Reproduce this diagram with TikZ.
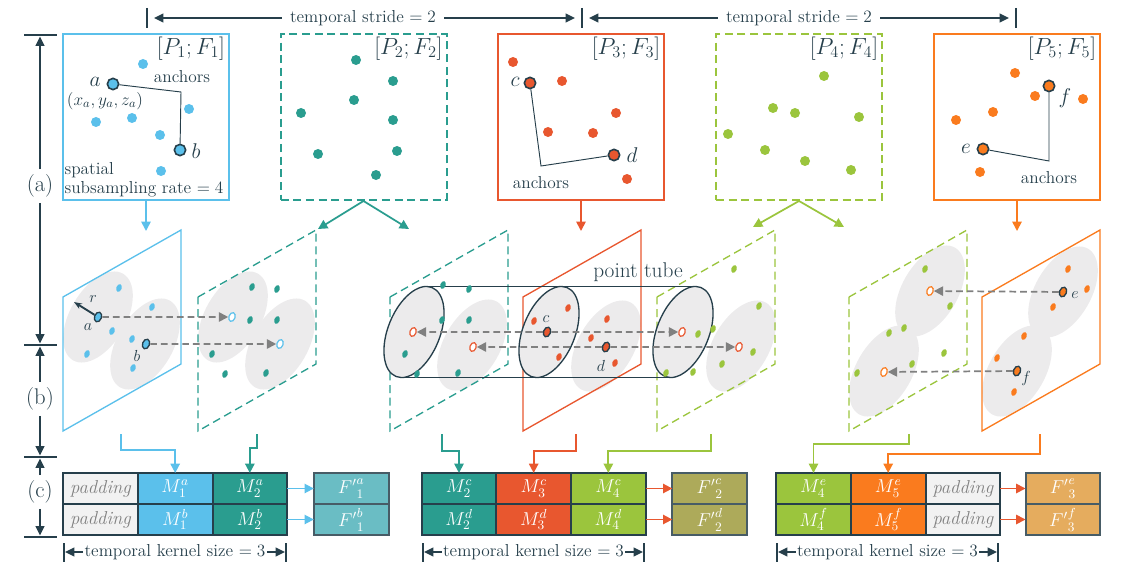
\RequirePackage{fix-cm}
\documentclass[tikz,border=0pt]{standalone}
\usetikzlibrary{arrows.meta,positioning,shapes.geometric}

\definecolor{ink}{HTML}{263F4B}
\definecolor{cblue}{HTML}{5BC0EB}
\definecolor{cteal}{HTML}{2A9D8F}
\definecolor{cred}{HTML}{E8572F}
\definecolor{cgreen}{HTML}{9BC53D}
\definecolor{corange}{HTML}{FA7B1E}
\definecolor{fone}{HTML}{6ABDC4}
\definecolor{ftwo}{HTML}{ADAA5A}
\definecolor{fthree}{HTML}{E5AC5E}
\definecolor{padfill}{HTML}{F2F2F2}
\definecolor{ballgray}{HTML}{ECEBEC}
\definecolor{probegray}{HTML}{808080}

\begin{document}
\begin{tikzpicture}[
  x=0.75pt, y=-0.75pt,
  txt/.style={text=ink, inner sep=1pt, font=\fontsize{13}{14.5}\selectfont},
  lab/.style={text=ink, inner sep=1pt, font=\fontsize{16}{18}\selectfont},
  sec/.style={text=ink, inner sep=4pt, font=\fontsize{17}{19}\selectfont},
  tag/.style={text=ink, inner sep=0pt, font=\fontsize{12}{13}\selectfont},
  panel/.style={draw=#1, line width=1.5pt, minimum size=124.5pt, inner sep=0pt},
  dpanel/.style={panel=#1, dash pattern=on 6pt off 3.5pt},
  plane/.style={draw=#1, line width=1pt},
  dplane/.style={plane=#1, dash pattern=on 6pt off 3.5pt},
  spot/.style={circle, fill=#1, inner sep=0pt, minimum size=7.5pt},
  apt/.style={spot=#1, draw=ink, line width=1.2pt, minimum size=8.5pt},
  dot/.style={ellipse, fill=#1, inner sep=0pt, minimum width=6pt, minimum height=4pt, rotate=70},
  adot/.style={dot=#1, draw=ink, line width=1pt, minimum width=7.5pt, minimum height=5.2pt},
  hollow/.style={dot=white, draw=#1, line width=0.9pt, minimum width=6.8pt, minimum height=4.6pt},
  tick/.style={draw=ink, line width=1.3pt},
  dim/.style={draw=ink, line width=1.3pt, -{Triangle[length=7pt,width=6.5pt]}},
  link/.style={draw=#1, line width=1.3pt, -{Triangle[length=7pt,width=7pt]}},
  probe/.style={draw=probegray, line width=1.3pt, dash pattern=on 5pt off 3pt, -{Triangle[length=7pt,width=7pt]}},
  cell/.style={draw=ink, line width=1.5pt, fill=#1, minimum width=56pt, minimum height=23.25pt, inner sep=0pt, outer sep=0pt, text=white, font=\fontsize{14}{15}\selectfont},
  padcell/.style={cell=padfill, text=gray, font=\fontsize{14}{15}\selectfont\itshape},
  fcell/.style={cell=#1, draw=ink!85}
]
\useasboundingbox (0,0) rectangle (1148,581);

% temporal stride
\draw[tick] (147,8) -- (147,28);
\draw[tick] (582,8) -- (582,28);
\draw[tick] (1016,8) -- (1016,28);
\node[txt, inner sep=6pt] (st1) at (363,18) {temporal stride $=2$};
\node[txt, inner sep=6pt] (st2) at (799,18) {temporal stride $=2$};
\coordinate (st1l) at (154,18);
\coordinate (st1r) at (575,18);
\coordinate (st2l) at (589,18);
\coordinate (st2r) at (1009,18);
\draw[dim] (st1) -- (st1l);
\draw[dim] (st1) -- (st1r);
\draw[dim] (st2) -- (st2l);
\draw[dim] (st2) -- (st2r);

% rows (a) (b) (c)
\draw[tick] (24,35) -- (57,35);
\draw[tick] (24,345) -- (57,345);
\draw[tick] (24,457) -- (57,457);
\draw[tick] (24,537) -- (57,537);
\node[sec] (sa) at (40,186) {(a)};
\node[sec] (sb) at (40,399) {(b)};
\node[sec] (sc) at (40,492) {(c)};
\coordinate (ya1) at (40,36.5);
\coordinate (ya2) at (40,343.5);
\coordinate (yb1) at (40,346.5);
\coordinate (yb2) at (40,455.5);
\coordinate (yc1) at (40,458.5);
\coordinate (yc2) at (40,535.5);
\draw[dim] (sa) -- (ya1);
\draw[dim] (sa) -- (ya2);
\draw[dim] (sb) -- (yb1);
\draw[dim] (sb) -- (yb2);
\draw[dim] (sc) -- (yc1);
\draw[dim] (sc) -- (yc2);

% (a) frames
\node[panel=cblue] (f1) at (146,117) {};
\node[dpanel=cteal] (f2) at (363.5,117) {};
\node[panel=cred] (f3) at (581,117) {};
\node[dpanel=cgreen] (f4) at (799,117) {};
\node[panel=corange] (f5) at (1017,117) {};
\node[lab, font=\fontsize{17.5}{19}\selectfont, anchor=north east] (l1) at ([shift={(-2.5pt,-1.5pt)}]f1.north east) {$[P_1;F_1]$};
\node[lab, font=\fontsize{17.5}{19}\selectfont, anchor=north east] (l2) at ([shift={(-2.5pt,-1.5pt)}]f2.north east) {$[P_2;F_2]$};
\node[lab, font=\fontsize{17.5}{19}\selectfont, anchor=north east] (l3) at ([shift={(-2.5pt,-1.5pt)}]f3.north east) {$[P_3;F_3]$};
\node[lab, font=\fontsize{17.5}{19}\selectfont, anchor=north east] (l4) at ([shift={(-2.5pt,-1.5pt)}]f4.north east) {$[P_4;F_4]$};
\node[lab, font=\fontsize{17.5}{19}\selectfont, anchor=north east] (l5) at ([shift={(-2.5pt,-1.5pt)}]f5.north east) {$[P_5;F_5]$};

\foreach \x/\y [count=\i] in {143/64, 189/109, 96/122, 132/118, 160/135, 161/171}
  \node[spot=cblue] (u1-\i) at (\x,\y) {};
\foreach \x/\y [count=\i] in {356/60, 393/81, 354/100, 301/113, 393/120, 318/154, 397/151, 376/175}
  \node[spot=cteal] (u2-\i) at (\x,\y) {};
\foreach \x/\y [count=\i] in {513/62, 562/81, 616/113, 548/132, 593/133, 627/179}
  \node[spot=cred] (u3-\i) at (\x,\y) {};
\foreach \x/\y [count=\i] in {824/76, 773/108, 795/113, 859/117, 728/134, 765/150, 805/161, 851/170}
  \node[spot=cgreen] (u4-\i) at (\x,\y) {};
\foreach \x/\y [count=\i] in {1015/73, 1035/96, 1083/99, 993/112, 956/120, 980/172}
  \node[spot=corange] (u5-\i) at (\x,\y) {};

\node[apt=cblue] (a) at (113,84) {};
\node[apt=cblue] (b) at (180,150) {};
\node[apt=cred] (c) at (530,83) {};
\node[apt=cred] (d) at (614,155) {};
\node[apt=corange] (e) at (983,149) {};
\node[apt=corange] (f) at (1049,86) {};
\coordinate (k1) at (181,92);
\coordinate (k3) at (541,166);
\coordinate (k5) at (1049,161);
\draw[ink, line width=0.7pt] (a) -- (k1) -- (b);
\draw[ink, line width=0.7pt] (c) -- (k3) -- (d);
\draw[ink, line width=0.7pt] (f) -- (k5) -- (e);
\node[txt] (n1) at (182,77) {anchors};
\node[txt] (n3) at (541,183) {anchors};
\node[txt] (n5) at (1049,178) {anchors};
\node[lab] (la) at (95,82) {$a$};
\node[lab] (lb) at (196,151) {$b$};
\node[lab] (lc) at (515,82) {$c$};
\node[lab] (ld) at (632,155) {$d$};
\node[lab] (le) at (966,149) {$e$};
\node[lab] (lf) at (1065,98) {$f$};
\node[txt] (xa) at (105,101) {$(x_a,y_a,z_a)$};
\node[txt, align=left, anchor=south west] (ss) at (63,199) {spatial\\subsampling rate $=4$};

% frames to planes
\coordinate (t1) at (146,231);
\coordinate (t2a) at (318,229);
\coordinate (t2b) at (409,229);
\coordinate (t3) at (581,231);
\coordinate (t4a) at (753,227);
\coordinate (t4b) at (844,227);
\coordinate (t5) at (1017,231);
\draw[link=cblue] (f1) -- (t1);
\draw[link=cteal] (f2.south) -- (t2a);
\draw[link=cteal] (f2.south) -- (t2b);
\draw[link=cred] (f3) -- (t3);
\draw[link=cgreen] (f4.south) -- (t4a);
\draw[link=cgreen] (f4.south) -- (t4b);
\draw[link=corange] (f5) -- (t5);

% (b) neighbourhoods
\foreach \x/\y in {98/317, 145/344, 233/317, 280/344, 472/345, 606/346, 741/346, 930/291, 884/371, 1063/292, 1017/371}
  \fill[ballgray, rotate around={60:(\x,\y)}] (\x,\y) ellipse [x radius=50, y radius=28];

\draw[plane=cblue] (63,297) -- (181,230) -- (181,364) -- (63,431) -- cycle;
\draw[dplane=cteal] (198,297) -- (316,230) -- (316,364) -- (198,431) -- cycle;
\draw[dplane=cteal] (390,297) -- (508,230) -- (508,364) -- (390,431) -- cycle;
\draw[plane=cred] (523,297) -- (641,230) -- (641,364) -- (523,431) -- cycle;
\draw[dplane=cgreen] (657,297) -- (775,230) -- (775,364) -- (657,431) -- cycle;
\draw[dplane=cgreen] (849,297) -- (967,230) -- (967,364) -- (849,431) -- cycle;
\draw[plane=corange] (982,297) -- (1100,230) -- (1100,364) -- (982,431) -- cycle;

% point tube
\foreach \x in {414, 549, 683}
  \draw[ink, line width=1pt, fill=ballgray, rotate around={68:(\x,332)}] (\x,332) ellipse [x radius=48, y radius=26];
\draw[ink, line width=1pt] (426.4,286.4) -- (695.4,286.4);
\draw[ink, line width=1pt] (401.6,377.6) -- (670.6,377.6);
\node[lab] (tube) at (638,272) {point tube};

\foreach \x/\y [count=\i] in {119/288, 152/307, 112/331, 132/339, 87/354, 133/368}
  \node[dot=cblue] (v1-\i) at (\x,\y) {};
\foreach \x/\y [count=\i] in {252/287, 277/289, 250/320, 277/320, 212/354, 225/374, 266/373}
  \node[dot=cteal] (v2-\i) at (\x,\y) {};
\foreach \x/\y [count=\i] in {443/285, 469/289, 442/320, 469/320, 405/354, 417/374, 458/373}
  \node[dot=cteal] (w2-\i) at (\x,\y) {};
\foreach \x/\y [count=\i] in {568/308, 534/321, 607/319, 591/338, 559/357, 615/363}
  \node[dot=cred] (v3-\i) at (\x,\y) {};
\foreach \x/\y [count=\i] in {734/269, 759/306, 713/329, 698/334, 753/352, 722/364, 693/372, 666/373}
  \node[dot=cgreen] (v4-\i) at (\x,\y) {};
\foreach \x/\y [count=\i] in {925/269, 950/306, 904/328, 889/333, 944/353, 912/364, 857/373}
  \node[dot=cgreen] (w4-\i) at (\x,\y) {};
\foreach \x/\y [count=\i] in {1068/269, 1087/289, 1053/307, 1024/336, 997/358, 1014/392}
  \node[dot=corange] (v5-\i) at (\x,\y) {};

\node[adot=cblue] (pa) at (98,317) {};
\node[adot=cblue] (pb) at (146,344) {};
\node[adot=cred] (pc) at (547,332) {};
\node[adot=cred] (pd) at (606,347) {};
\node[adot=corange] (pe) at (1063,292) {};
\node[adot=corange] (pf) at (1017,371) {};
\node[hollow=cblue] (ha) at (232,317) {};
\node[hollow=cblue] (hb) at (280,344) {};
\node[hollow=cred] (hc1) at (413,332) {};
\node[hollow=cred] (hd1) at (473,347) {};
\node[hollow=cred] (hc2) at (682,332) {};
\node[hollow=cred] (hd2) at (739,347) {};
\node[hollow=corange] (he) at (930,291) {};
\node[hollow=corange] (hf) at (884,372) {};
\node[tag] (ta) at (88,327) {$a$};
\node[tag] (tb) at (137,356) {$b$};
\node[tag] (tc) at (546,319) {$c$};
\node[tag] (td) at (601,366) {$d$};
\node[tag] (te) at (1075,295) {$e$};
\node[tag] (tf) at (1026,378) {$f$};
\coordinate (rr) at (74,302);
\draw[ink, line width=1.4pt, -{Stealth[length=6pt]}] (pa) -- (rr);
\node[tag] (tr) at (93,299) {$r$};

\draw[probe] (pa) -- (ha);
\draw[probe] (pb) -- (hb);
\draw[probe] (pc) -- (hc1);
\draw[probe] (pc) -- (hc2);
\draw[probe] (pd) -- (hd1);
\draw[probe] (pd) -- (hd2);
\draw[probe] (pe) -- (he);
\draw[probe] (pf) -- (hf);

% (c) features
\node[padcell] (p1a) at (100.5,488.5) {padding};
\node[cell=cblue, right=0pt of p1a] (m1a) {$M_1^a$};
\node[cell=cteal, right=0pt of m1a] (m2a) {$M_2^a$};
\node[fcell=fone, right=20pt of m2a] (g1a) {${F'}^a_1$};
\node[padcell, below=0pt of p1a] (p1b) {padding};
\node[cell=cblue, right=0pt of p1b] (m1b) {$M_1^b$};
\node[cell=cteal, right=0pt of m1b] (m2b) {$M_2^b$};
\node[fcell=fone, right=20pt of m2b] (g1b) {${F'}^b_1$};

\node[cell=cteal] (m2c) at (459,488.5) {$M_2^c$};
\node[cell=cred, right=0pt of m2c] (m3c) {$M_3^c$};
\node[cell=cgreen, right=0pt of m3c] (m4c) {$M_4^c$};
\node[fcell=ftwo, right=20pt of m4c] (g2c) {${F'}^c_2$};
\node[cell=cteal, below=0pt of m2c] (m2d) {$M_2^d$};
\node[cell=cred, right=0pt of m2d] (m3d) {$M_3^d$};
\node[cell=cgreen, right=0pt of m3d] (m4d) {$M_4^d$};
\node[fcell=ftwo, right=20pt of m4d] (g2d) {${F'}^d_2$};

\node[cell=cgreen] (m4e) at (813.5,488.5) {$M_4^e$};
\node[cell=corange, right=0pt of m4e] (m5e) {$M_5^e$};
\node[padcell, right=0pt of m5e] (p5e) {padding};
\node[fcell=fthree, right=19pt of p5e] (g3e) {${F'}^e_3$};
\node[cell=cgreen, below=0pt of m4e] (m4f) {$M_4^f$};
\node[cell=corange, right=0pt of m4f] (m5f) {$M_5^f$};
\node[padcell, right=0pt of m5f] (p5f) {padding};
\node[fcell=fthree, right=19pt of p5f] (g3f) {${F'}^f_3$};

\draw[link=cblue] (m2a) -- (g1a);
\draw[link=cblue] (m2b) -- (g1b);
\draw[link=cred] (m4c) -- (g2c);
\draw[link=cred] (m4d) -- (g2d);
\draw[link=cred] (p5e) -- (g3e);
\draw[link=cred] (p5f) -- (g3f);

% planes to features
\coordinate (q1) at (121,434);
\coordinate (q2) at (257,434);
\coordinate (q3) at (442,434);
\coordinate (q4) at (576,434);
\coordinate (q5) at (711,434);
\coordinate (q6) at (909,434);
\coordinate (q7) at (1040,434);
\draw[link=cblue] (q1) -- ++(0,16) -| (m1a);
\draw[link=cteal] (q2) -- ++(0,14) -| (m2a);
\draw[link=cteal] (q3) -- ++(0,17) -| (m2c);
\draw[link=cred] (q4) -- ++(0,17) -| (m3c);
\draw[link=cgreen] (q5) -- ++(0,17) -| (m4c);
\draw[link=cgreen] (q6) -- ++(0,10) -| (m4e);
\draw[link=corange] (q7) -- ++(0,20) -| (m5e);

% temporal kernel size
\draw[tick] (64,543) -- (64,562);
\draw[tick] (286,543) -- (286,562);
\draw[tick] (423,543) -- (423,562);
\draw[tick] (644,543) -- (644,562);
\draw[tick] (777,543) -- (777,562);
\draw[tick] (998,543) -- (998,562);
\node[txt] (ks1) at (175,552) {temporal kernel size $=3$};
\node[txt] (ks2) at (533.5,552) {temporal kernel size $=3$};
\node[txt] (ks3) at (887.5,552) {temporal kernel size $=3$};
\coordinate (ks1l) at (65,552);
\coordinate (ks1r) at (285,552);
\coordinate (ks2l) at (424,552);
\coordinate (ks2r) at (643,552);
\coordinate (ks3l) at (778,552);
\coordinate (ks3r) at (997,552);
\draw[dim] (ks1) -- (ks1l);
\draw[dim] (ks1) -- (ks1r);
\draw[dim] (ks2) -- (ks2l);
\draw[dim] (ks2) -- (ks2r);
\draw[dim] (ks3) -- (ks3l);
\draw[dim] (ks3) -- (ks3r);
\end{tikzpicture}
\end{document}
